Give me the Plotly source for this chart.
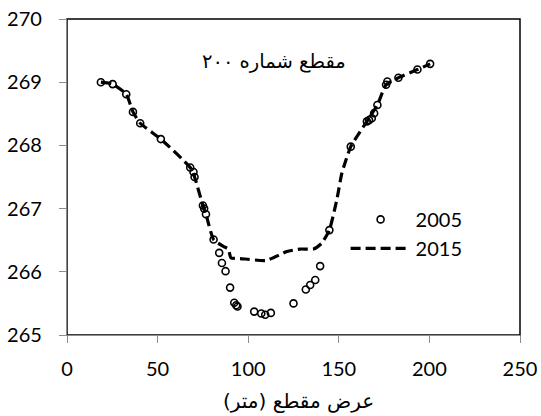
import plotly.graph_objects as go

# 2005 survey points
x_2005 = [18.7, 25.2, 32.7, 36.4, 40.4, 51.8, 68.0, 69.8, 70.4, 75.0, 75.7, 76.7,
          80.9, 84.0, 85.5, 87.5, 90.0, 92.3, 93.4, 94.1, 103.3, 107.2, 109.4, 112.5,
          125.0, 131.8, 134.2, 137.0, 139.7, 144.8, 156.6, 165.5, 166.7, 168.2, 169.5,
          171.3, 176.1, 176.8, 182.9, 193.4, 200.4]
y_2005 = [269.00, 268.97, 268.81, 268.53, 268.35, 268.10, 267.65, 267.58, 267.50, 267.05,
          267.00, 266.91, 266.51, 266.30, 266.14, 266.01, 265.75, 265.51, 265.47, 265.45,
          265.37, 265.34, 265.32, 265.35, 265.50, 265.72, 265.79, 265.87, 266.09, 266.66,
          267.98, 268.38, 268.40, 268.43, 268.51, 268.64, 268.96, 269.01, 269.07, 269.20,
          269.29]

# 2015 profile
x_2015 = [18.7, 25.2, 32.7, 36.4, 40.4, 51.8, 68.0, 70.4, 75.0, 76.7, 80.9, 86.4, 89.0,
          90.5, 95.6, 110.0, 121.3, 128.7, 136.0, 140.5, 144.8, 148.9, 151.7, 156.6,
          165.5, 171.3, 176.1, 182.9, 193.4, 200.4]
y_2015 = [269.00, 268.97, 268.81, 268.53, 268.35, 268.10, 267.65, 267.50, 267.05, 266.91,
          266.51, 266.40, 266.36, 266.22, 266.21, 266.18, 266.32, 266.36, 266.36, 266.45,
          266.66, 267.14, 267.56, 267.98, 268.38, 268.64, 268.96, 269.07, 269.20, 269.29]

x_ticks = [0, 50, 100, 150, 200, 250]
y_ticks = [265, 266, 267, 268, 269, 270]

title_text = "مقطع شماره ۲۰۰"
x_title = "عرض مقطع (متر)"

fig = go.Figure()
fig.add_trace(go.Scatter(
    x=x_2005, y=y_2005, mode="markers", name="2005",
    marker=dict(symbol="circle-open", size=7, color="black", line=dict(width=1.6, color="black")),
))
fig.add_trace(go.Scatter(
    x=x_2015, y=y_2015, mode="lines", name="2015",
    line=dict(color="black", width=3.2, dash="10px,5px", shape="spline", smoothing=0.5),
))

axis_common = dict(
    showgrid=False, zeroline=False, showline=True, linecolor="#8c8c8c", linewidth=1.3,
    ticks="outside", ticklen=7, tickwidth=1.3, tickcolor="#8c8c8c", automargin=False,
    ticklabeloverflow="allow",
    tickfont=dict(family="Lato", size=20, color="black"),
)

fig.update_layout(
    width=541, height=416,
    margin=dict(l=67, r=21, t=19, b=81),
    paper_bgcolor="white", plot_bgcolor="white",
    xaxis=dict(range=[0, 250], tickvals=x_ticks, ticklabelstandoff=9, **axis_common),
    yaxis=dict(range=[265, 270], tickvals=y_ticks, ticklabelstandoff=13, **axis_common),
    showlegend=True,
    legend=dict(x=0.615, y=0.32, xanchor="left", yanchor="middle",
                bgcolor="rgba(0,0,0,0)", font=dict(family="Lato", size=20, color="black"),
                itemwidth=60, tracegroupgap=0),
    shapes=[dict(type="rect", xref="paper", yref="paper", x0=0, x1=1, y0=0, y1=1,
                 line=dict(color="black", width=1.5), layer="below")],
    annotations=[
        dict(text=title_text, xref="paper", yref="paper", x=0.457, y=0.867,
             xanchor="center", yanchor="middle",
             showarrow=False, font=dict(family="DejaVu Sans", size=19.5, color="black")),
        dict(text=x_title, xref="paper", yref="paper", x=0.512, y=-0.209,
             xanchor="center", yanchor="middle",
             showarrow=False, font=dict(family="DejaVu Sans", size=20, color="black")),
    ],
)

# remove the default page margin so the figure sits at the window's top-left corner
fig.write_html(
    "out.html",
    config={"displayModeBar": False},
    post_script="document.body.style.margin='0';document.body.style.overflow='hidden';",
)
